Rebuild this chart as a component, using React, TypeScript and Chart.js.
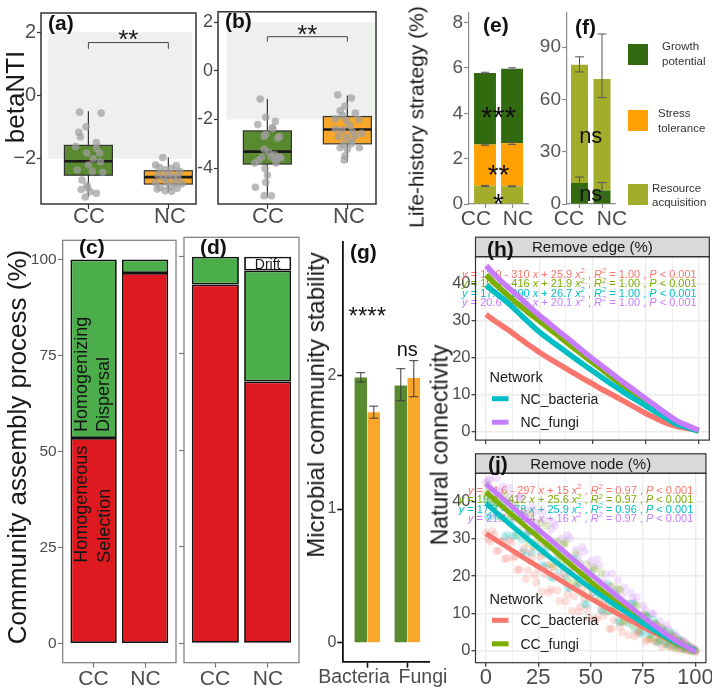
import React, { useEffect, useRef } from 'react';
import { Chart, registerables } from 'chart.js';

Chart.register(...registerables);

const FONT = '"Liberation Sans", Arial, Helvetica, sans-serif';
Chart.defaults.font.family = FONT;

// ---------- categories ----------
const treatments = ['CC', 'NC'];
const treatmentPos = [1, 2];
const kingdoms = ['Bacteria', 'Fungi'];

// ---------- (a) bacterial betaNTI ----------
const bactBetaQ1 = [-2.52, -2.8];
const bactBetaMedian = [-2.08, -2.58];
const bactBetaQ3 = [-1.58, -2.38];
const bactBetaLow = [-3.2, -3.06];
const bactBetaHigh = [-0.5, -1.96];
const bactBetaTicks = [-2, 0, 2];
const bactBetaCC = [
  [0.89, -0.53], [1.16, -0.56], [0.88, -1.17], [0.9, -1.31], [0.97, -0.99], [1.1, -1.49],
  [0.84, -1.62], [0.98, -1.82], [1.1, -1.67], [1.0, -2.2], [1.15, -2.1], [0.86, -2.36],
  [1.05, -2.4], [1.18, -2.43], [0.92, -2.67], [0.99, -2.91], [0.91, -2.97], [1.02, -3.04],
  [0.96, -3.21], [1.1, -3.09], [0.98, -2.84], [1.06, -2.0], [1.14, -1.82],
];
const bactBetaNC = [
  [1.93, -1.96], [1.84, -2.2], [1.89, -2.28], [1.96, -2.35], [2.04, -2.3], [2.1, -2.22],
  [2.14, -2.4], [1.87, -2.51], [2.0, -2.51], [2.06, -2.56], [1.94, -2.61], [2.12, -2.61],
  [1.84, -2.76], [1.98, -2.76], [2.08, -2.79], [2.17, -2.79], [1.9, -2.91], [2.02, -2.89],
  [1.96, -3.01], [2.04, -3.03], [1.86, -2.96], [2.11, -2.93],
];

// ---------- (b) fungal betaNTI ----------
const fungBetaQ1 = [-3.83, -3.0];
const fungBetaMedian = [-3.32, -2.41];
const fungBetaQ3 = [-2.47, -1.88];
const fungBetaLow = [-5.2, -3.74];
const fungBetaHigh = [-1.16, -1.02];
const fungBetaTicks = [-4, -2, 0, 2];
const fungBetaCC = [
  [0.91, -1.16], [0.98, -1.91], [1.1, -2.08], [0.88, -2.21], [1.06, -2.34], [0.98, -2.61],
  [0.96, -2.7], [1.07, -2.37], [1.15, -2.7], [1.13, -2.76], [0.96, -3.22], [1.02, -3.36],
  [1.09, -3.45], [1.15, -3.53], [1.05, -3.55], [1.17, -3.58], [0.84, -3.79], [0.89, -3.68],
  [1.11, -3.79], [0.97, -4.01], [1.0, -4.28], [0.98, -4.58], [0.85, -4.78], [0.96, -5.13],
  [1.05, -5.13], [1.1, -3.62], [0.93, -3.55],
];
const fungBetaNC = [
  [1.88, -0.99], [2.05, -1.12], [1.97, -1.45], [1.91, -1.64], [1.94, -1.84], [2.1, -1.74],
  [1.85, -1.97], [1.99, -2.04], [2.14, -2.0], [2.03, -2.26], [1.85, -2.39], [1.94, -2.43],
  [2.06, -2.5], [2.18, -2.57], [1.89, -2.7], [1.99, -2.74], [2.1, -2.66], [1.95, -3.03],
  [2.05, -3.0], [1.91, -3.16], [2.0, -3.22], [2.15, -3.16], [1.97, -3.49], [1.96, -3.66],
  [2.06, -2.89],
];

// ---------- (c)/(d) community assembly (%) ----------
const assemblyTicks = [0, 25, 50, 75, 100];
const bactSelection = [53.5, 96.5];
const bactDispersal = [46.5, 3.5];
const fungSelection = [92.8, 67.7];
const fungDispersal = [7.2, 28.7];
const fungDrift = [0, 3.6];

// ---------- (e)/(f) life-history strategy (%) ----------
const bactResource = [0.8, 0.78];
const bactStress = [1.82, 1.9];
const bactGrowth = [3.16, 3.29];
const bactResourceErr = [0.02, 0.02];
const bactStressErr = [0.03, 0.05];
const bactGrowthErr = [0.03, 0.04];
const bactLifeTicks = [0, 2, 4, 6, 8];
const bactLifeSig = ['*', '**', '***'];
const fungGrowth = [12, 7.8];
const fungResource = [68, 63.9];
const fungGrowthLow = [8.8, 4.0];
const fungGrowthHigh = [15.5, 12.3];
const fungTotalLow = [75.8, 61.1];
const fungTotalHigh = [84.5, 97.6];
const fungLifeTicks = [0, 30, 60, 90];
const fungLifeSig = ['ns', 'ns'];
const lifeStrategies = [['Growth', 'potential'], ['Stress', 'tolerance'], ['Resource', 'acquisition']];

// ---------- (g) community stability ----------
const stabilityCC = [1.985, 1.925];
const stabilityNC = [1.725, 1.98];
const stabilityCCLow = [1.95, 1.81];
const stabilityCCHigh = [2.02, 2.05];
const stabilityNCLow = [1.68, 1.84];
const stabilityNCHigh = [1.77, 2.11];
const stabilityTicks = [0, 1, 2];
const stabilitySig = ['****', 'ns'];

// ---------- (h)/(j) natural connectivity ----------
const networks = ['CC_bacteria', 'CC_fungi', 'NC_bacteria', 'NC_fungi'];
const removalGrid = [0, 12.5, 25, 37.5, 50, 62.5, 75, 87.5, 100];
const connectivityGrid = [0, 5, 10, 15, 20, 25, 30, 35, 40, 45];
const edgeRemoved = [0, 5, 10, 15, 20, 25, 30, 35, 40, 45, 50, 55, 60, 65, 70, 75, 80, 85, 90, 95, 100];
const edgeCCBacteria = [31.7, 29.6, 27.7, 25.6, 23.5, 21.5, 19.7, 18.0, 16.3, 14.6, 13.0, 11.3, 9.8, 8.2, 6.6, 5.0, 3.6, 2.3, 1.4, 0.9, 0.5];
const edgeCCFungi = [42.4, 39.6, 37.0, 34.5, 32.2, 30.0, 27.7, 25.5, 23.2, 21.0, 18.8, 16.6, 14.4, 12.2, 10.1, 8.0, 6.0, 4.1, 2.4, 1.1, 0.2];
const edgeNCBacteria = [39.6, 37.3, 35.0, 32.3, 29.6, 27.0, 24.8, 22.7, 20.6, 18.5, 16.5, 14.5, 12.5, 10.6, 8.8, 7.1, 5.3, 3.6, 2.0, 1.1, 0.2];
const edgeNCFungi = [44.9, 41.9, 39.2, 36.7, 34.0, 31.5, 29.2, 26.8, 24.5, 22.1, 19.8, 17.6, 15.4, 13.2, 11.1, 9.0, 6.9, 4.8, 2.9, 1.6, 0.4];
const edgeFitIntercept = ['13.9', '19.4', '17.6', '20.6'];
const edgeFitLinear = ['310', '416', '390', '435'];
const edgeFitQuadratic = ['25.9', '21.9', '26.7', '20.1'];
const edgeFitR2 = ['1.00', '1.00', '1.00', '1.00'];

// node-removal simulations: even and odd removal steps
const nodeRemoved = [0, 2, 4, 6, 8, 10, 12, 14, 16, 18, 20, 22, 24, 26, 28, 30, 32, 34, 36, 38, 40, 42, 44, 46, 48, 50,
  52, 54, 56, 58, 60, 62, 64, 66, 68, 70, 72, 74, 76, 78, 80, 82, 84, 86, 88, 90, 92, 94, 96, 98, 100];
const nodeCCBacteria = [31.7, 29.2, 31.2, 26.8, 29.3, 24.8, 29.1, 25.3, 21.8, 27.4, 21.6, 24.9, 18.3, 25.2, 20.5, 15.6, 22.3,
  16.1, 19.3, 13.2, 20.7, 14.6, 10.5, 16.8, 11.1, 16.8, 8.5, 13.1, 9.4, 14.9, 5.8, 11.4, 6.4, 11.4, 4.2, 8.7, 4.7, 9.5, 2.5,
  6.5, 2.8, 6.6, 1.1, 3.9, 1.2, 3.8, 0.4, 2.2, 0.0, 1.0, -0.3];
const nodeCCFungi = [42.0, 43.3, 38.3, 40.5, 35.5, 40.2, 35.8, 39.1, 32.2, 34.9, 28.8, 34.8, 29.3, 34.2, 25.7, 28.6, 22.5,
  29.3, 23.2, 29.1, 22.4, 18.4, 23.7, 15.3, 23.2, 17.1, 22.1, 13.7, 17.4, 10.5, 17.3, 10.9, 16.3, 7.9, 11.3, 6.8, 12.1, 6.4,
  9.8, 3.3, 7.5, 2.5, 6.2, 2.3, 4.6, 0.7, 2.8, 0.5, 1.5, -0.2, 0.0];
const nodeNCBacteria = [40.3, 35.9, 39.0, 36.2, 38.6, 31.1, 33.9, 30.8, 35.6, 26.7, 31.6, 26.2, 32.5, 26.5, 22.5, 27.8, 19.4,
  24.6, 26.3, 19.6, 16.6, 24.8, 18.1, 20.6, 12.3, 20.7, 14.0, 15.7, 10.5, 17.9, 11.9, 14.9, 7.6, 12.5, 7.3, 12.6, 7.8, 4.5,
  9.5, 4.4, 8.4, 2.3, 5.7, 1.8, 5.0, 1.5, 3.2, 0.6, 1.6, 0.0, 0.2];
const nodeNCFungi = [45.1, 45.9, 40.9, 42.8, 44.1, 38.6, 41.5, 35.2, 40.9, 36.5, 32.0, 38.5, 34.4, 28.6, 34.9, 30.3, 34.3,
  26.1, 30.1, 25.4, 30.1, 21.3, 25.3, 27.8, 19.9, 24.0, 17.2, 22.9, 18.5, 13.6, 20.7, 16.4, 12.0, 17.0, 11.7, 14.1, 14.5, 7.7,
  10.9, 5.5, 9.9, 6.8, 3.4, 6.9, 2.6, 4.7, 1.4, 2.9, 0.4, 1.0, 0.0];
const nodeRemovedAlt = [1, 3, 5, 7, 9, 11, 13, 15, 17, 19, 21, 23, 25, 27, 29, 31, 33, 35, 37, 39, 41, 43, 45, 47, 49,
  51, 53, 55, 57, 59, 61, 63, 65, 67, 69, 71, 73, 75, 77, 79, 81, 83, 85, 87, 89, 91, 93, 95, 97, 99];
const nodeCCBacteriaAlt = [29.9, 32.0, 26.8, 29.4, 24.6, 29.6, 24.9, 21.7, 26.3, 19.2, 26.6, 20.2, 21.9, 15.9, 23.0, 16.4,
  20.1, 13.3, 20.8, 15.1, 10.7, 17.4, 11.8, 14.1, 8.9, 15.7, 8.5, 11.0, 13.4, 5.9, 8.2, 12.1, 4.9, 7.9, 9.6, 3.8, 5.3, 8.3,
  2.9, 5.9, 2.3, 5.5, 1.8, 4.0, 1.1, 2.9, 0.6, 1.8, 0.2, 0.6];
const nodeCCFungiAlt = [44.4, 39.7, 40.7, 35.9, 41.9, 36.7, 37.4, 31.1, 37.2, 31.1, 36.9, 27.8, 31.4, 27.8, 33.5, 23.2, 28.7,
  24.9, 28.5, 18.8, 24.2, 26.1, 18.3, 20.2, 14.3, 21.5, 16.0, 20.9, 12.1, 15.2, 11.6, 16.6, 7.7, 12.7, 9.2, 12.1, 5.1, 9.0,
  9.1, 3.3, 7.2, 3.0, 5.3, 1.2, 3.7, 1.1, 2.3, 0.3, 0.9, 0.2];
const nodeNCBacteriaAlt = [35.9, 40.0, 36.2, 39.5, 30.5, 35.3, 30.8, 36.3, 29.8, 25.5, 32.1, 28.4, 31.9, 23.0, 27.4, 19.7,
  27.0, 21.3, 22.7, 17.0, 24.4, 16.9, 20.1, 12.5, 19.6, 15.7, 19.2, 10.9, 14.9, 10.6, 15.7, 8.0, 13.0, 9.1, 12.5, 5.7, 8.7,
  5.0, 9.2, 4.3, 7.1, 2.7, 5.1, 1.8, 4.1, 1.5, 2.7, 0.7, 1.1, 0.1];
const nodeNCFungiAlt = [45.7, 42.5, 46.2, 42.5, 38.1, 43.7, 38.9, 36.0, 41.4, 37.5, 31.6, 37.1, 32.6, 37.2, 28.7, 32.5, 33.4,
  27.1, 28.6, 31.0, 22.3, 27.0, 23.3, 26.6, 19.7, 22.6, 24.5, 17.3, 20.5, 17.3, 13.3, 18.8, 15.2, 12.3, 15.6, 12.9, 8.5,
  12.1, 8.9, 10.0, 5.4, 7.9, 5.8, 5.8, 2.7, 3.9, 2.5, 2.3, 0.4, 0.5];
const nodeFitX = [0, 10, 20, 30, 40, 50, 60, 70, 80, 90, 100];
const nodeFitCCBacteria = [31.4, 27.8, 24.2, 20.8, 17.3, 14.0, 10.8, 7.8, 4.9, 2.3, 0.0];
const nodeFitCCFungi = [42.5, 37.6, 32.8, 28.1, 23.3, 18.5, 14.0, 9.7, 5.6, 2.2, -0.3];
const nodeFitNCBacteria = [39.5, 34.6, 29.9, 25.3, 21.0, 16.8, 12.9, 9.2, 5.6, 2.5, 0.0];
const nodeFitNCFungi = [44.7, 39.8, 34.9, 30.1, 25.3, 20.5, 15.8, 11.3, 6.9, 2.9, -0.3];
const nodeFitIntercept = ['14.6', '19.4', '17.7', '21.1'];
const nodeFitLinear = ['297', '412', '378', '424'];
const nodeFitQuadratic = ['15', '25.6', '25.9', '16'];
const nodeFitR2 = ['0.97', '0.97', '0.96', '0.97'];

// ---------- colours ----------
const CC_GREEN = '#5A8A2F';
const NC_ORANGE = '#F8A72A';
const POINT_GREY = 'rgba(160,160,160,0.72)';
const SEL_RED = '#DE1920';
const DISP_GREEN = '#4CAE4B';
const GROWTH = '#326A10';
const STRESS = '#FFA100';
const RESOURCE = '#A3AD2B';
const NET_COLORS = ['#F8766D', '#7CAE00', '#00BFC4', '#C77CFF'];
const NET_FILLS = ['rgba(248,118,109,0.22)', 'rgba(124,174,0,0.22)', 'rgba(0,191,196,0.22)', 'rgba(199,124,255,0.22)'];
const TICK_TEXT = '#4D4D4D';

// ---------- helpers ----------
const fixWidth = (w: number) => (s: any) => { s.width = w; };
const fixHeight = (h: number) => (s: any) => { s.height = h; };
const tickAt = (vals: number[]) => (s: any) => { s.ticks = vals.map((value) => ({ value })); };
const signed = (v: number, sign: string) => (v < 0 ? sign + Math.abs(v) : String(v));
const toPts = (vals: number[]) => vals.map((y, i) => ({ x: treatmentPos[i], y })).filter((p) => p.y > 0);
const pairs = (xs: number[], ys: number[]) => xs.map((x, i) => ({ x, y: ys[i] }));

const baseOptions = {
  animation: false,
  responsive: false,
  maintainAspectRatio: false,
  events: [],
  plugins: { legend: { display: false }, tooltip: { enabled: false } },
};

function drawText(ctx: any, text: string, x: number, cy: number, size: number, o: any = {}) {
  ctx.save();
  ctx.font = `${o.italic ? 'italic ' : ''}${o.bold ? 'bold ' : ''}${size}px ${FONT}`;
  ctx.fillStyle = o.color || '#1A1A1A';
  ctx.textAlign = o.align || 'center';
  ctx.textBaseline = 'alphabetic';
  ctx.fillText(text, x, cy + (o.lift ?? 0.36) * size);
  ctx.restore();
}

function errBar(ctx: any, x: number, yHi: number, yLo: number, cap: number, color: string, width = 1) {
  ctx.save();
  ctx.strokeStyle = color;
  ctx.lineWidth = width;
  ctx.beginPath();
  ctx.moveTo(x, yHi); ctx.lineTo(x, yLo);
  ctx.moveTo(x - cap / 2, yHi); ctx.lineTo(x + cap / 2, yHi);
  ctx.moveTo(x - cap / 2, yLo); ctx.lineTo(x + cap / 2, yLo);
  ctx.stroke();
  ctx.restore();
}

function strokeArea(ctx: any, a: any, color: string, width: number) {
  ctx.save();
  ctx.strokeStyle = color;
  ctx.lineWidth = width;
  ctx.strokeRect(a.left, a.top, a.right - a.left, a.bottom - a.top);
  ctx.restore();
}

// ---------- (a)/(b) box plots with jittered samples ----------
function betaChart(p: any) {
  const decor = {
    id: 'betaDecor',
    beforeDatasetsDraw(chart: any) {
      const { ctx } = chart;
      const { x, y } = chart.scales;
      ctx.save();
      ctx.fillStyle = '#EEF0EE';
      const l = x.getPixelForValue(p.shadeX[0]);
      const r = x.getPixelForValue(p.shadeX[1]);
      const t = y.getPixelForValue(2);
      const b = y.getPixelForValue(-2);
      ctx.fillRect(l, t, r - l, b - t);
      treatmentPos.forEach((pos, i) => {
        const cx = x.getPixelForValue(pos);
        const half = x.getPixelForValue(pos + 0.3) - cx;
        const yq1 = y.getPixelForValue(p.q1[i]);
        const yq3 = y.getPixelForValue(p.q3[i]);
        const ymed = y.getPixelForValue(p.med[i]);
        ctx.strokeStyle = '#333333';
        ctx.lineWidth = 1.2;
        ctx.beginPath();
        ctx.moveTo(cx, y.getPixelForValue(p.hi[i]));
        ctx.lineTo(cx, y.getPixelForValue(p.lo[i]));
        ctx.stroke();
        ctx.fillStyle = p.fills[i];
        ctx.fillRect(cx - half, yq3, 2 * half, yq1 - yq3);
        ctx.strokeRect(cx - half, yq3, 2 * half, yq1 - yq3);
        ctx.lineWidth = 2.6;
        ctx.strokeStyle = '#1A1A1A';
        ctx.beginPath();
        ctx.moveTo(cx - half, ymed);
        ctx.lineTo(cx + half, ymed);
        ctx.stroke();
      });
      ctx.restore();
    },
    afterDatasetsDraw(chart: any) {
      const { ctx } = chart;
      const { x, y } = chart.scales;
      const x1 = x.getPixelForValue(1);
      const x2 = x.getPixelForValue(2);
      const yb = y.getPixelForValue(p.bracketY);
      const yt = y.getPixelForValue(p.bracketY - 0.2);
      ctx.save();
      ctx.strokeStyle = '#444';
      ctx.lineWidth = 1;
      ctx.beginPath();
      ctx.moveTo(x1, yt); ctx.lineTo(x1, yb); ctx.lineTo(x2, yb); ctx.lineTo(x2, yt);
      ctx.stroke();
      ctx.restore();
      drawText(ctx, '**', (x1 + x2) / 2, y.getPixelForValue(p.sigY), 26, { lift: 0.57 });
    },
    afterDraw(chart: any) {
      strokeArea(chart.ctx, chart.chartArea, '#333', 1.5);
    },
  };
  return {
    type: 'scatter',
    data: {
      datasets: [p.cc, p.nc].map((pts: number[][]) => ({
        data: pts.map(([x, y]) => ({ x, y })),
        pointRadius: 3.8,
        pointBackgroundColor: POINT_GREY,
        pointBorderWidth: 0,
      })),
    },
    options: {
      ...baseOptions,
      layout: { padding: { top: 5, right: 2, left: 0, bottom: 0 } },
      scales: {
        x: {
          type: 'linear', min: p.xMin, max: p.xMax,
          afterBuildTicks: tickAt(treatmentPos), afterFit: fixHeight(28),
          ticks: { display: false },
          grid: { drawOnChartArea: false, tickLength: 5, tickColor: '#333', tickWidth: 1.2 },
          border: { display: false },
        },
        y: {
          type: 'linear', min: p.yMin, max: p.yMax,
          afterBuildTicks: tickAt(p.ticks), afterFit: fixWidth(p.axisW),
          ticks: { color: TICK_TEXT, font: { size: p.tickSize }, padding: 1, callback: (v: number) => signed(v, p.sign) },
          grid: { drawOnChartArea: false, tickLength: 4, tickColor: '#333', tickWidth: 1.2 },
          border: { display: false },
        },
      },
    },
    plugins: [decor],
  };
}

const buildA = () => betaChart({
  cc: bactBetaCC, nc: bactBetaNC, q1: bactBetaQ1, med: bactBetaMedian, q3: bactBetaQ3, lo: bactBetaLow, hi: bactBetaHigh,
  fills: [CC_GREEN, NC_ORANGE], xMin: 0.407, xMax: 2.346, yMin: -3.43, yMax: 2.6, ticks: bactBetaTicks,
  axisW: 41, tickSize: 20, sign: '\u2212', shadeX: [0.49, 2.3], bracketY: 1.667, sigY: 1.955,
});
const buildB = () => betaChart({
  cc: fungBetaCC, nc: fungBetaNC, q1: fungBetaQ1, med: fungBetaMedian, q3: fungBetaQ3, lo: fungBetaLow, hi: fungBetaHigh,
  fills: [CC_GREEN, NC_ORANGE], xMin: 0.383, xMax: 2.358, yMin: -5.47, yMax: 2.42, ticks: fungBetaTicks,
  axisW: 22, tickSize: 18, sign: '-', shadeX: [0.49, 2.34], bracketY: 1.398, sigY: 1.75,
});

// ---------- (c)/(d) stacked assembly bars ----------
function assemblyChart(p: any) {
  const decor = {
    id: 'assemblyDecor',
    afterDatasetsDraw(chart: any) {
      const { ctx } = chart;
      const { x, y } = chart.scales;
      (p.notes || []).forEach((n: any) => {
        const cx = x.getPixelForValue(n.pos);
        if (n.rotate) {
          n.lines.forEach((line: string, k: number) => {
            ctx.save();
            ctx.translate(cx + n.offsets[k], y.getPixelForValue(n.y));
            ctx.rotate(-Math.PI / 2);
            ctx.font = `${n.size}px ${FONT}`;
            ctx.fillStyle = '#141414';
            ctx.textAlign = 'left';
            ctx.textBaseline = 'alphabetic';
            ctx.fillText(line, 0, 0.3 * n.size);
            ctx.restore();
          });
        } else {
          drawText(ctx, n.text, cx, y.getPixelForValue(n.y), n.size, { color: '#141414' });
        }
      });
    },
    afterDraw(chart: any) {
      strokeArea(chart.ctx, chart.chartArea, '#7A7A7A', 1.2);
    },
  };
  return {
    type: 'bar',
    data: {
      datasets: p.series.map((s: any) => ({
        data: toPts(s.values),
        backgroundColor: s.color,
        borderColor: '#111',
        borderWidth: 1.8,
        borderSkipped: false,
        barPercentage: 0.9,
        categoryPercentage: 1,
      })),
    },
    options: {
      ...baseOptions,
      layout: { padding: { top: 7.3, right: 2, left: 0, bottom: 0 } },
      scales: {
        x: {
          type: 'linear', min: 0.4, max: 2.6, offset: false, stacked: true,
          afterBuildTicks: tickAt(treatmentPos), afterFit: fixHeight(28.3),
          ticks: { display: false },
          grid: { offset: false, drawOnChartArea: false, tickLength: 5, tickColor: '#7A7A7A', tickWidth: 1.2 },
          border: { display: false },
        },
        y: {
          type: 'linear', min: -5, max: 105, stacked: true,
          afterBuildTicks: tickAt(assemblyTicks), afterFit: fixWidth(p.axisW),
          ticks: { display: p.showY, color: TICK_TEXT, font: { size: 15.5 }, padding: 1 },
          grid: { drawOnChartArea: false, tickLength: 5, tickColor: '#7A7A7A', tickWidth: 1.2 },
          border: { display: false },
        },
      },
    },
    plugins: [decor],
  };
}

const buildC = () => assemblyChart({
  axisW: 62.7, showY: true,
  series: [{ values: bactSelection, color: SEL_RED }, { values: bactDispersal, color: DISP_GREEN }],
  notes: [
    { rotate: true, pos: 1, y: 21.0, lines: ['Homogeneous', 'Selection'], offsets: [-12.3, 10.5], size: 18 },
    { rotate: true, pos: 1, y: 55.1, lines: ['Homogenizing', 'Dispersal'], offsets: [-12.0, 9.5], size: 18 },
  ],
});
const buildD = () => assemblyChart({
  axisW: 6, showY: false,
  series: [
    { values: fungSelection, color: SEL_RED },
    { values: fungDispersal, color: DISP_GREEN },
    { values: fungDrift, color: '#FFFFFF' },
  ],
  notes: [{ rotate: false, pos: 2, y: 98.2, text: 'Drift', size: 14 }],
});

// ---------- (e)/(f) life-history strategy ----------
function lifeChart(p: any) {
  const decor = {
    id: 'lifeDecor',
    afterDatasetsDraw(chart: any) {
      const { ctx } = chart;
      const { x, y } = chart.scales;
      p.errors.forEach((e: any) => {
        errBar(ctx, x.getPixelForValue(e.pos), y.getPixelForValue(e.hi), y.getPixelForValue(e.lo), p.cap, '#555', 1);
      });
      p.notes.forEach((n: any) => {
        drawText(ctx, n.text, x.getPixelForValue(n.pos), y.getPixelForValue(n.y), n.size, { lift: n.lift, color: '#111' });
      });
    },
    afterDraw(chart: any) {
      if (!p.legend) return;
      const { ctx } = chart;
      const colors = [GROWTH, STRESS, RESOURCE];
      const rows = [{ top: 44, x: 124, y: [46, 60.7] }, { top: 110, x: 120, y: [113, 128] }, { top: 184, x: 114, y: [188, 202] }];
      rows.forEach((r, i) => {
        ctx.fillStyle = colors[i];
        ctx.fillRect(90, r.top, 20, 21);
        lifeStrategies[i].forEach((t, k) => drawText(ctx, t, r.x, r.y[k], 11.5, { align: 'left', color: '#333' }));
      });
    },
  };
  return {
    type: 'bar',
    data: {
      datasets: p.series.map((s: any) => ({
        data: toPts(s.values),
        backgroundColor: s.color,
        borderWidth: 0,
        barPercentage: p.barPct,
        categoryPercentage: 1,
      })),
    },
    options: {
      ...baseOptions,
      layout: { padding: { top: 5, right: p.padRight, left: 0, bottom: 0 } },
      scales: {
        x: {
          type: 'linear', min: p.xMin, max: p.xMax, offset: false, stacked: true,
          afterBuildTicks: tickAt(treatmentPos), afterFit: fixHeight(28),
          ticks: { display: false },
          grid: { offset: false, drawOnChartArea: false, tickLength: 4, tickColor: '#8C8C8C', tickWidth: 1.2 },
          border: { display: true, color: '#8C8C8C', width: 1.2 },
        },
        y: {
          type: 'linear', min: 0, max: p.yMax, stacked: true,
          afterBuildTicks: tickAt(p.ticks), afterFit: fixWidth(p.axisW),
          ticks: { color: '#555', font: { size: 19 }, padding: 1 },
          grid: { drawOnChartArea: false, tickLength: 5, tickColor: '#8C8C8C', tickWidth: 1.2 },
          border: { display: true, color: '#8C8C8C', width: 1.2 },
        },
      },
    },
    plugins: [decor],
  };
}

const buildE = () => lifeChart({
  series: [
    { values: bactResource, color: RESOURCE },
    { values: bactStress, color: STRESS },
    { values: bactGrowth, color: GROWTH },
  ],
  errors: treatmentPos.flatMap((pos, i) => {
    const t1 = bactResource[i];
    const t2 = t1 + bactStress[i];
    const t3 = t2 + bactGrowth[i];
    return [
      { pos, lo: t1 - bactResourceErr[i], hi: t1 + bactResourceErr[i] },
      { pos, lo: t2 - bactStressErr[i], hi: t2 + bactStressErr[i] },
      { pos, lo: t3 - bactGrowthErr[i], hi: t3 + bactGrowthErr[i] },
    ];
  }),
  notes: [
    { text: bactLifeSig[0], pos: 1.5, y: 0.3, size: 28, lift: 0.57 },
    { text: bactLifeSig[1], pos: 1.5, y: 1.57, size: 28, lift: 0.57 },
    { text: bactLifeSig[2], pos: 1.5, y: 4.16, size: 30, lift: 0.57 },
  ],
  cap: 8, barPct: 0.81, xMin: 0.407, xMax: 2.59, yMax: 8.45, ticks: bactLifeTicks, axisW: 69, padRight: 5, legend: false,
});
const buildF = () => lifeChart({
  series: [
    { values: fungGrowth, color: GROWTH },
    { values: fungResource, color: RESOURCE },
  ],
  errors: treatmentPos.flatMap((pos, i) => [
    { pos, lo: fungGrowthLow[i], hi: fungGrowthHigh[i] },
    { pos, lo: fungTotalLow[i], hi: fungTotalHigh[i] },
  ]),
  notes: [
    { text: fungLifeSig[0], pos: 1.5, y: 38.1, size: 22, lift: 0.26 },
    { text: fungLifeSig[1], pos: 1.5, y: 5.0, size: 22, lift: 0.26 },
  ],
  cap: 9, barPct: 0.756, xMin: 0.444, xMax: 2.6, yMax: 110, ticks: fungLifeTicks, axisW: 29, padRight: 99.5, legend: true,
});

// ---------- (g) stability ----------
const buildG = () => {
  const decor = {
    id: 'stabilityDecor',
    afterDatasetsDraw(chart: any) {
      const { ctx } = chart;
      const { x, y } = chart.scales;
      const lows = [stabilityCCLow, stabilityNCLow];
      const highs = [stabilityCCHigh, stabilityNCHigh];
      [0, 1].forEach((d) => {
        chart.getDatasetMeta(d).data.forEach((bar: any, i: number) => {
          errBar(ctx, bar.x, y.getPixelForValue(highs[d][i]), y.getPixelForValue(lows[d][i]), 9, '#3A3A3A', 1);
        });
      });
      drawText(ctx, stabilitySig[0], x.getPixelForValue(1), y.getPixelForValue(2.49), 24, { lift: 0.57, color: '#111' });
      drawText(ctx, stabilitySig[1], x.getPixelForValue(2), y.getPixelForValue(2.185), 20, { lift: 0.26, color: '#111' });
    },
  };
  return {
    type: 'bar',
    data: {
      datasets: [
        { data: pairs(treatmentPos, stabilityCC), backgroundColor: CC_GREEN },
        { data: pairs(treatmentPos, stabilityNC), backgroundColor: NC_ORANGE },
      ].map((d) => ({ ...d, borderWidth: 0, barPercentage: 0.96, categoryPercentage: 0.65 })),
    },
    options: {
      ...baseOptions,
      layout: { padding: { top: 11.7, right: 5.7, left: 0, bottom: 0 } },
      scales: {
        x: {
          type: 'linear', min: 0.4, max: 2.55, offset: false,
          afterBuildTicks: tickAt(treatmentPos), afterFit: fixHeight(29.3),
          ticks: { display: false },
          grid: { offset: false, drawOnChartArea: false, tickLength: 6, tickColor: '#111', tickWidth: 1.6 },
          border: { display: true, color: '#111', width: 1.8 },
        },
        y: {
          type: 'linear', min: -0.142, max: 3.0,
          afterBuildTicks: tickAt(stabilityTicks), afterFit: fixWidth(43.3),
          ticks: { color: TICK_TEXT, font: { size: 16 }, padding: 1 },
          grid: { drawOnChartArea: false, tickLength: 6, tickColor: '#111', tickWidth: 1.6 },
          border: { display: true, color: '#111', width: 1.8 },
        },
      },
    },
    plugins: [decor],
  };
};

// ---------- (h)/(j) network robustness ----------
function equationParts(b0: string, b1: string, b2: string, r2: string) {
  return [
    ['y', 'i'], [` = ${b0} - ${b1} `, 'n'], ['x', 'i'], [` + ${b2} `, 'n'], ['x', 'i'], ['2', 's'],
    [' , ', 'n'], ['R', 'i'], ['2', 's'], [` = ${r2} , `, 'n'], ['P', 'i'], [' < 0.001', 'n'],
  ];
}

function drawEquation(ctx: any, right: number, cy: number, color: string, parts: string[][]) {
  const size = 11;
  const fontOf = (k: string) => (k === 'i' ? `italic ${size}px ${FONT}` : k === 's' ? `7.5px ${FONT}` : `${size}px ${FONT}`);
  let total = 0;
  parts.forEach(([t, k]) => { ctx.font = fontOf(k); total += ctx.measureText(t).width; });
  let xPos = right - total;
  ctx.save();
  ctx.fillStyle = color;
  ctx.textAlign = 'left';
  ctx.textBaseline = 'alphabetic';
  const base = cy + 0.36 * size;
  parts.forEach(([t, k]) => {
    ctx.font = fontOf(k);
    ctx.fillText(t, xPos, k === 's' ? base - 4.5 : base);
    xPos += ctx.measureText(t).width;
  });
  ctx.restore();
}

function networkChart(p: any) {
  const decor = {
    id: 'networkDecor',
    beforeDatasetsDraw(chart: any) {
      const { ctx, chartArea } = chart;
      p.equations.forEach((parts: string[][], i: number) => {
        drawEquation(ctx, chartArea.right - 12.6, chartArea.top + p.eqTop + i * 9.3, NET_COLORS[i], parts);
      });
    },
    afterDatasetsDraw(chart: any) {
      const { ctx, chartArea } = chart;
      const l = chartArea.left;
      const t = chartArea.top;
      drawText(ctx, 'Network', l + 14, t + p.legendTop, 14.5, { align: 'left' });
      p.legendItems.forEach((idx: number, k: number) => {
        const cy = t + p.legendTop + 22 + k * 23.5;
        ctx.save();
        ctx.strokeStyle = NET_COLORS[idx];
        ctx.lineWidth = 5;
        ctx.beginPath();
        ctx.moveTo(l + 16.5, cy); ctx.lineTo(l + 33, cy);
        ctx.stroke();
        ctx.restore();
        drawText(ctx, networks[idx], l + 45, cy, 14, { align: 'left' });
      });
    },
    afterDraw(chart: any) {
      const { ctx, chartArea } = chart;
      const h = 19.5;
      ctx.save();
      ctx.fillStyle = '#D9D9D9';
      ctx.fillRect(chartArea.left, chartArea.top - h, chartArea.right - chartArea.left, h);
      ctx.strokeStyle = '#333';
      ctx.lineWidth = 1.2;
      ctx.strokeRect(chartArea.left, chartArea.top - h, chartArea.right - chartArea.left, h);
      ctx.restore();
      drawText(ctx, p.strip, (chartArea.left + chartArea.right) / 2, chartArea.top - h / 2, 15);
      strokeArea(ctx, chartArea, '#333', 1.2);
    },
  };
  const gridWidth = (step: number) => (c: any) => (c.tick && c.tick.value % step === 0 ? 1.4 : 0.8);
  const majorTick = (step: number) => (c: any) => (c.tick && c.tick.value % step === 0 ? '#333' : 'rgba(0,0,0,0)');
  return {
    type: 'line',
    data: { datasets: p.datasets },
    options: {
      ...baseOptions,
      layout: { padding: { top: p.padTop, right: 2.7, left: 0, bottom: 0 } },
      scales: {
        x: {
          type: 'linear', min: -5, max: 105,
          afterBuildTicks: tickAt(removalGrid), afterFit: fixHeight(p.xH),
          ticks: {
            display: p.showX, autoSkip: false, maxRotation: 0, color: TICK_TEXT, font: { size: 22 }, padding: -2,
            callback: (v: number) => (v % 25 === 0 ? String(v) : ''),
          },
          grid: { color: '#EBEBEB', lineWidth: gridWidth(25), tickLength: 4, tickColor: majorTick(25), tickWidth: 1.2 },
          border: { display: false },
        },
        y: {
          type: 'linear', min: p.yMin, max: p.yMax,
          afterBuildTicks: tickAt(connectivityGrid), afterFit: fixWidth(31.5),
          ticks: { color: TICK_TEXT, font: { size: 16.5 }, padding: 1, callback: (v: number) => (v % 10 === 0 ? String(v) : '') },
          grid: { color: '#EBEBEB', lineWidth: gridWidth(10), tickLength: 4, tickColor: majorTick(10), tickWidth: 1.2 },
          border: { display: false },
        },
      },
    },
    plugins: [decor],
  };
}

const lineSet = (xs: number[], ys: number[], i: number, order: number, width: number) => ({
  data: pairs(xs, ys),
  borderColor: NET_COLORS[i],
  borderWidth: width,
  pointRadius: 0,
  tension: 0.35,
  fill: false,
  order,
});
const cloudSet = (xs: number[], ys: number[], i: number) => ({
  data: pairs(xs, ys),
  showLine: false,
  pointRadius: 4,
  pointBackgroundColor: NET_FILLS[i],
  pointBorderWidth: 0,
  order: 10,
});

const buildH = () => networkChart({
  strip: 'Remove edge (%)', padTop: 20.7, xH: 4.3, showX: false, yMin: -2.25, yMax: 47.35,
  eqTop: 17.3, legendTop: 120, legendItems: [2, 3],
  equations: [0, 1, 2, 3].map((i) => equationParts(edgeFitIntercept[i], edgeFitLinear[i], edgeFitQuadratic[i], edgeFitR2[i])),
  datasets: [edgeCCBacteria, edgeCCFungi, edgeNCBacteria, edgeNCFungi].map((ys, i) => lineSet(edgeRemoved, ys, i, 3 - i, 5.5)),
});
const buildJ = () => networkChart({
  strip: 'Remove node (%)', padTop: 21.3, xH: 28.3, showX: true, yMin: -3.2, yMax: 47.55,
  eqTop: 16.7, legendTop: 125, legendItems: [0, 1],
  equations: [0, 1, 2, 3].map((i) => equationParts(nodeFitIntercept[i], nodeFitLinear[i], nodeFitQuadratic[i], nodeFitR2[i])),
  datasets: [
    ...[nodeCCBacteria, nodeCCFungi, nodeNCBacteria, nodeNCFungi].map((ys, i) => cloudSet(nodeRemoved, ys, i)),
    ...[nodeCCBacteriaAlt, nodeCCFungiAlt, nodeNCBacteriaAlt, nodeNCFungiAlt].map((ys, i) => cloudSet(nodeRemovedAlt, ys, i)),
    ...[nodeFitCCBacteria, nodeFitCCFungi, nodeFitNCBacteria, nodeFitNCFungi].map((ys, i) => lineSet(nodeFitX, ys, i, 3 - i, 5)),
  ],
});

// ---------- page text ----------
const panelTags = [
  { text: '(a)', x: 48, y: 22 }, { text: '(b)', x: 225, y: 20 }, { text: '(e)', x: 483, y: 24 },
  { text: '(f)', x: 575, y: 26 }, { text: '(c)', x: 79, y: 246 }, { text: '(d)', x: 200, y: 246 },
  { text: '(g)', x: 350, y: 251 }, { text: '(h)', x: 487, y: 248 }, { text: '(j)', x: 488, y: 463 },
];
const axisTitles = [
  { text: 'betaNTI', x: 15, y: 97, size: 26 },
  { text: 'Community assembly process (%)', x: 17, y: 447, size: 26 },
  { text: 'Life-history strategy (%)', x: 416, y: 117, size: 21 },
  { text: 'Microbial community stability', x: 316, y: 405, size: 24 },
  { text: 'Natural connectivity', x: 440, y: 445, size: 23 },
];
const categoryRows = [
  { names: treatments, xs: [89, 170], y: 216, size: 22 },
  { names: treatments, xs: [268, 349], y: 216, size: 22 },
  { names: treatments, xs: [476, 518], y: 217, size: 21 },
  { names: treatments, xs: [569, 612], y: 217, size: 21 },
  { names: treatments, xs: [93.5, 145.5], y: 677, size: 21 },
  { names: treatments, xs: [215, 268], y: 677, size: 21 },
  { names: kingdoms, xs: [354, 423], y: 677, size: 19.5 },
];

function TextAt({ text, x, y, size, bold, rotate, align = 'center', color = '#1A1A1A' }: any) {
  const tx = align === 'left' ? '0' : '-50%';
  return (
    <div
      style={{
        position: 'absolute', left: x, top: y, fontFamily: FONT, fontSize: size, lineHeight: `${size}px`,
        fontWeight: bold ? 'bold' : 'normal', color, whiteSpace: 'nowrap',
        transform: `translate(${tx}, -50%)${rotate ? ' rotate(-90deg)' : ''}`,
      }}
    >
      {text}
    </div>
  );
}

function ChartBox({ left, top, width, height, build }: any) {
  const ref = useRef<HTMLCanvasElement | null>(null);
  useEffect(() => {
    const chart = new Chart(ref.current as HTMLCanvasElement, build());
    return () => chart.destroy();
  }, [build]);
  return <canvas ref={ref} width={width} height={height} style={{ position: 'absolute', left, top, width, height }} />;
}

export default function App() {
  return (
    <div style={{ position: 'fixed', left: 0, top: 0, width: 715, height: 691, background: '#fff', overflow: 'hidden' }}>
      <ChartBox left={0} top={0} width={200} height={232} build={buildA} />
      <ChartBox left={196} top={0} width={184} height={232} build={buildB} />
      <ChartBox left={400} top={0} width={133} height={232} build={buildE} />
      <ChartBox left={538} top={0} width={177} height={232} build={buildF} />
      <ChartBox left={0} top={230} width={178} height={461} build={buildC} />
      <ChartBox left={178} top={230} width={123} height={461} build={buildD} />
      <ChartBox left={300} top={230} width={135} height={461} build={buildG} />
      <ChartBox left={444} top={236} width={268} height={215} build={buildH} />
      <ChartBox left={444} top={452} width={268} height={239} build={buildJ} />
      {axisTitles.map((t) => <TextAt key={t.text} {...t} rotate />)}
      {panelTags.map((t) => <TextAt key={t.text} {...t} size={21} bold align="left" color="#111" />)}
      {categoryRows.flatMap((row, r) => row.names.map((name, i) => (
        <TextAt key={`${r}-${name}`} text={name} x={row.xs[i]} y={row.y} size={row.size} color={TICK_TEXT} />
      )))}
    </div>
  );
}
